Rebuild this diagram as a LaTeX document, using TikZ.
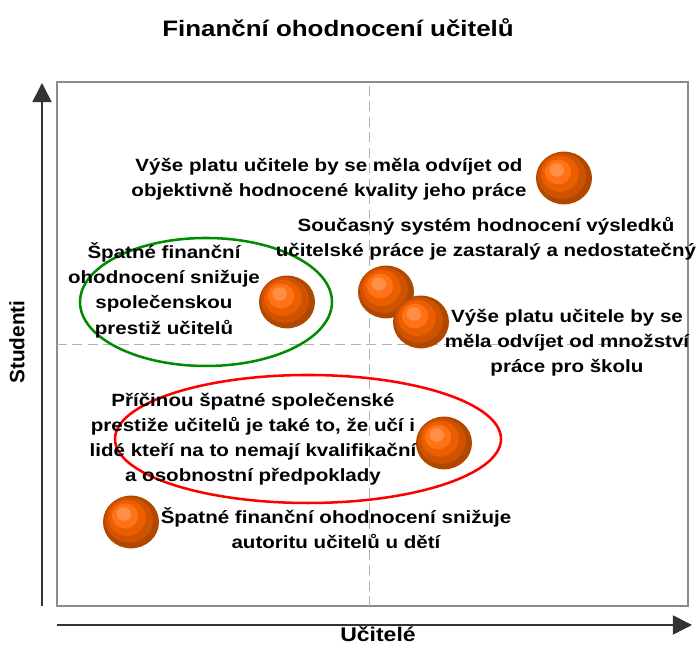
\documentclass[tikz,border=0pt]{standalone}
\usepackage{fontspec}
\setmainfont[FakeStretch=1.16]{Liberation Sans}
\newfontfamily\axisfont{Liberation Sans}
\usetikzlibrary{arrows.meta,
  calc,
  positioning
}
\definecolor{ballA}{HTML}{B04800}
\definecolor{ballB}{HTML}{CF5200}
\definecolor{ballC}{HTML}{EA5E00}
\definecolor{ballD}{HTML}{FF7216}
\definecolor{ballE}{HTML}{FF8E46}
\tikzset{
  frame/.style={draw=black!45, line width=1.1pt},
  divider/.style={black!30, line width=0.6pt, dash pattern=on 7pt off 4pt},
  axis/.style={black!80, line width=1.1pt, -{Triangle[length=0.48cm,width=0.48cm]}},
  opinion/.style={align=center, font=\bfseries\fontsize{12.6}{17.8}\selectfont},
  group/.style={line width=1.8pt},
}
\newcommand*{\bubble}[2]{%
  \coordinate (#2) at #1;
  \fill[ballA] (#2) ellipse (0.7 and 0.66);
  \fill[ballB] ($(#2) + (-0.05, 0.05)$) ellipse (0.6 and 0.57);
  \fill[ballC] ($(#2) + (-0.1, 0.1)$) ellipse (0.47 and 0.45);
  \fill[ballD] ($(#2) + (-0.15, 0.15)$) ellipse (0.33 and 0.31);
  \fill[ballE] ($(#2) + (-0.18, 0.2)$) ellipse (0.18 and 0.17);
}

\begin{document}
\begin{tikzpicture}
  \useasboundingbox (0, 0) rectangle (17.4, 16.15);

  % frame and quadrants
  \coordinate (box sw) at (1.425, 1.0);
  \coordinate (box ne) at (17.2, 14.1);
  \draw[frame] (box sw) rectangle (box ne);
  \draw[divider] (9.225, 1.0) -- (9.225, 14.1);
  \draw[divider] (1.425, 7.55) -- (17.2, 7.55);

  % axes
  \coordinate (y from) at (1.05, 1.0);
  \coordinate (y to) at (1.05, 14.075);
  \coordinate (x from) at (1.425, 0.525);
  \coordinate (x to) at (17.3, 0.525);
  \draw[axis] (y from) -- (y to);
  \draw[axis] (x from) -- (x to);

  \node[font=\bfseries\fontsize{15.9}{19}\selectfont, anchor=base] (titulek)
  at (8.45, 15.225) {Finanční ohodnocení učitelů};
  \node[font=\axisfont\bfseries\fontsize{14.8}{17}\selectfont, rotate=90] (studenti)
  at (0.425, 7.6) {Studenti};
  \node[font=\bfseries\fontsize{14.1}{17}\selectfont, anchor=base, inner sep=0pt] (ucitele)
  at (9.45, 0.12) {Učitelé};

  % groups
  \draw[group, green!55!black] (5.15, 8.6) ellipse (3.15 and 1.6);
  \draw[group, red] (7.7, 5.175) ellipse (4.825 and 1.6);

  % bubbles
  \bubble{(14.1, 11.7)}{b kvalita};
  \bubble{(7.175, 8.6)}{b prestiz};
  \bubble{(9.65, 8.85)}{b system};
  \bubble{(10.525, 8.1)}{b mnozstvi};
  \bubble{(11.1, 5.075)}{b priciny};
  \bubble{(3.275, 3.1)}{b autorita};

  % opinions
  \node[opinion] (kvalita) at (8.225, 11.66)
  {Výše platu učitele by se měla odvíjet od\\objektivně hodnocené kvality jeho práce};
  \node[opinion] (system) at (12.15, 10.175)
  {Současný systém hodnocení výsledků\\učitelské práce je zastaralý a nedostatečný};
  \node[opinion] (prestiz) at (4.1, 8.89)
  {Špatné finanční\\ohodnocení snižuje\\společenskou\\prestiž učitelů};
  \node[opinion] (mnozstvi) at (14.175, 7.575)
  {Výše platu učitele by se\\měla odvíjet od množství\\práce pro školu};
  \node[opinion] (priciny) at (6.325, 5.1625)
  {Příčinou špatné společenské\\prestiže učitelů je také to, že učí i\\lidé kteří na to nemají kvalifikační\\a osobnostní předpoklady};
  \node[opinion] (autorita) at (8.4, 2.95)
  {Špatné finanční ohodnocení snižuje\\autoritu učitelů u dětí};
\end{tikzpicture}
\end{document}
